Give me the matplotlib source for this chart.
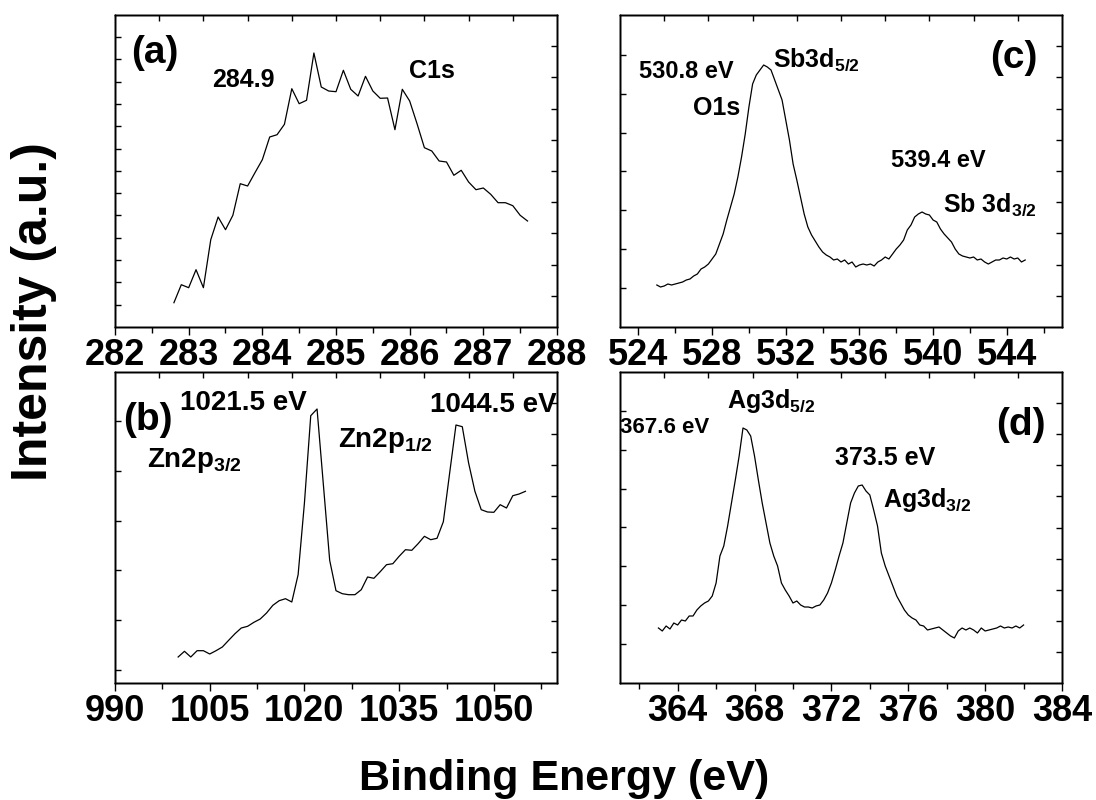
import numpy as np
import matplotlib
matplotlib.use("Agg")
import matplotlib.pyplot as plt
from matplotlib.ticker import MultipleLocator, FixedLocator
from matplotlib import font_manager

# ---- data (arbitrary intensity units) ----
# (a) C1s
e_a = np.round(282.8 + 0.1 * np.arange(49), 2)
i_a = [24.3, 42.3, 39.3, 57.3, 39.3, 87.3, 110.0, 97.3, 111.7, 143.3,
       141.0, 154.3, 167.3, 190.0, 192.3, 202.7, 238.3, 223.3, 226.7, 274.0,
       240.0, 236.0, 235.3, 256.7, 237.7, 231.0, 250.7, 236.0, 228.7, 229.0,
       197.3, 237.7, 226.0, 203.3, 179.3, 176.0, 166.0, 165.0, 151.7, 156.7,
       145.0, 137.3, 139.0, 132.7, 124.3, 124.3, 121.3, 111.7, 106.0]

# (b) Zn2p
e_b = 1000 + np.arange(56)
i_b = [26, 31.7, 26, 32.3, 32.3, 29, 32.3, 36, 42.7, 49.3,
       55, 56.7, 60.7, 64, 70, 77.7, 82.3, 84.3, 81, 108.3,
       180, 267.3, 274, 198.3, 122.7, 92.3, 89.3, 88.3, 88.3, 93.3,
       106, 104.7, 111.3, 118.3, 119.3, 126.7, 133.3, 132.7, 139.3, 146.7,
       143.3, 144.7, 161.3, 210, 258, 256.3, 220, 191.7, 173.3, 171,
       170.7, 178.3, 175, 187.3, 189, 191.7]

# (c) O1s / Sb3d
e_c = np.round(525.0 + 0.2 * np.arange(101), 2)
i_c = [42, 40, 41, 43, 42, 43, 44, 45, 47, 48,
       51, 53, 58, 60, 63, 68, 73, 83, 93, 107,
       120, 133, 150, 170, 193, 220, 243, 252, 257, 262,
       260, 257, 247, 237, 227, 207, 187, 163, 147, 130,
       113, 100, 92, 86, 80, 75, 72, 70, 67, 68,
       65, 67, 63, 65, 60, 62, 63, 62, 63, 61,
       65, 67, 70, 68, 73, 78, 82, 87, 97, 102,
       110, 113, 115, 113, 112, 107, 105, 98, 93, 89,
       85, 78, 73, 71, 70, 69, 70, 67, 68, 65,
       63, 65, 67, 67, 69, 68, 70, 68, 69, 65,
       67]

# (d) Ag3d
e_d = np.round(363.0 + 0.2 * np.arange(96), 2)
i_d = [55, 52, 57, 54, 60, 58, 63, 62, 67, 67,
       73, 77, 80, 82, 87, 100, 127, 137, 157, 180,
       203, 227, 255, 253, 247, 227, 203, 180, 160, 140,
       127, 117, 100, 93, 87, 80, 82, 78, 76, 76,
       75, 77, 78, 83, 90, 100, 113, 127, 140, 160,
       180, 190, 197, 198, 192, 188, 173, 157, 130, 117,
       107, 97, 87, 80, 73, 68, 65, 63, 58, 57,
       53, 54, 55, 56, 53, 50, 47, 45, 52, 55,
       53, 55, 53, 50, 55, 52, 53, 54, 55, 57,
       55, 56, 55, 57, 55, 58]

# ---- fonts ----
names = {f.name for f in font_manager.fontManager.ttflist}
narrow = "Liberation Sans Narrow" if "Liberation Sans Narrow" in names else None
if narrow:
    tick_size, letter_size = 30, 30
    tick_family = [narrow, "Liberation Sans"]
else:
    tick_size, letter_size = 26, 28
    tick_family = ["Liberation Sans"]

plt.rcParams["font.family"] = tick_family
plt.rcParams["font.weight"] = "bold"
plt.rcParams["mathtext.fontset"] = "custom"
plt.rcParams["mathtext.rm"] = "Liberation Sans:bold"
plt.rcParams["mathtext.it"] = "Liberation Sans:bold"
plt.rcParams["mathtext.bf"] = "Liberation Sans:bold"
plt.rcParams["axes.linewidth"] = 1.0

W, H = 1096.0, 800.0
fig = plt.figure(figsize=(W / 100, H / 100), dpi=100)


def make_axes(left, top, right, bottom):
    return fig.add_axes([left / W, 1 - bottom / H, (right - left) / W, (bottom - top) / H])


def style(ax, xlim, major, minor, ytick_pos, ytop):
    ax.set_xlim(*xlim)
    ax.set_ylim(0, ytop)
    ax.xaxis.set_major_locator(MultipleLocator(major))
    ax.xaxis.set_minor_locator(MultipleLocator(minor))
    ax.yaxis.set_major_locator(FixedLocator(ytick_pos))
    ax.tick_params(axis="x", which="major", direction="out", length=6, width=1,
                   pad=2, labelsize=tick_size)
    ax.tick_params(axis="x", which="minor", direction="out", length=4, width=1)
    ax.tick_params(axis="y", direction="in", length=4, width=1, labelleft=False)
    # extra tick sets on the right and on top
    axr = ax.twinx()
    axr.set_ylim(0, 1)
    axr.yaxis.set_major_locator(FixedLocator(np.arange(1, 10) / 10))
    axr.tick_params(axis="y", direction="in", length=4, width=1, labelright=False)
    axt = ax.twiny()
    axt.set_xlim(0, 1)
    axt.xaxis.set_major_locator(FixedLocator(np.arange(1, 10) / 10))
    axt.tick_params(axis="x", direction="in", length=4, width=1, labeltop=False)


lbl = dict(family="Liberation Sans", weight="bold")
lw = 0.9

# (a)
ax_a = make_axes(115, 15, 557, 327)
ax_a.plot(e_a, i_a, color="black", lw=lw)
style(ax_a, (282, 288), 1, 0.5, np.arange(22.3, 300, 22.3), 312)
ax_a.text(0.089, 0.846, "(a)", transform=ax_a.transAxes, ha="center", va="baseline",
          fontsize=letter_size, family=tick_family, weight="bold")
ax_a.text(0.291, 0.769, "284.9", transform=ax_a.transAxes, ha="center", va="baseline",
          fontsize=18, **lbl)
ax_a.text(0.718, 0.798, "C1s", transform=ax_a.transAxes, ha="center", va="baseline",
          fontsize=18, **lbl)

# (c)
ax_c = make_axes(620, 15, 1062, 327)
ax_c.plot(e_c, i_c, color="black", lw=lw)
style(ax_c, (523, 547), 4, 2, np.arange(38.9, 300, 38.9), 312)
ax_c.text(0.890, 0.830, "(c)", transform=ax_c.transAxes, ha="center", va="baseline",
          fontsize=letter_size, family=tick_family, weight="bold")
ax_c.text(0.149, 0.798, "530.8 eV", transform=ax_c.transAxes, ha="center", va="baseline",
          fontsize=17, **lbl)
ax_c.text(0.218, 0.679, "O1s", transform=ax_c.transAxes, ha="center", va="baseline",
          fontsize=18, **lbl)
ax_c.text(0.346, 0.833, "Sb3d$_{5/2}$", transform=ax_c.transAxes, ha="left", va="baseline",
          fontsize=18, **lbl)
ax_c.text(0.721, 0.513, "539.4 eV", transform=ax_c.transAxes, ha="center", va="baseline",
          fontsize=17, **lbl)
ax_c.text(0.731, 0.369, "Sb 3d$_{3/2}$", transform=ax_c.transAxes, ha="left", va="baseline",
          fontsize=18, **lbl)

# (b)
ax_b = make_axes(115, 372, 557, 683)
ax_b.plot(e_b, i_b, color="black", lw=lw)
style(ax_b, (990, 1060), 15, 7.5, np.arange(13.3, 311, 49.7), 311)
ax_b.text(0.0735, 0.814, "(b)", transform=ax_b.transAxes, ha="center", va="baseline",
          fontsize=letter_size, family=tick_family, weight="bold")
ax_b.text(0.29, 0.878, "1021.5 eV", transform=ax_b.transAxes, ha="center", va="baseline",
          fontsize=20, **lbl)
ax_b.text(0.072, 0.695, "Zn2p$_{3/2}$", transform=ax_b.transAxes, ha="left", va="baseline",
          fontsize=20, **lbl)
ax_b.text(0.505, 0.759, "Zn2p$_{1/2}$", transform=ax_b.transAxes, ha="left", va="baseline",
          fontsize=20, **lbl)
ax_b.text(0.855, 0.871, "1044.5 eV", transform=ax_b.transAxes, ha="center", va="baseline",
          fontsize=20, **lbl)

# (d)
ax_d = make_axes(620, 372, 1062, 683)
ax_d.plot(e_d, i_d, color="black", lw=lw)
style(ax_d, (361, 384), 4, 2, np.arange(38.9, 300, 38.9), 311)
ax_d.text(0.907, 0.797, "(d)", transform=ax_d.transAxes, ha="center", va="baseline",
          fontsize=letter_size, family=tick_family, weight="bold")
ax_d.text(0.102, 0.804, "367.6 eV", transform=ax_d.transAxes, ha="center", va="baseline",
          fontsize=16, **lbl)
ax_d.text(0.242, 0.884, "Ag3d$_{5/2}$", transform=ax_d.transAxes, ha="left", va="baseline",
          fontsize=18, **lbl)
ax_d.text(0.600, 0.701, "373.5 eV", transform=ax_d.transAxes, ha="center", va="baseline",
          fontsize=18, **lbl)
ax_d.text(0.595, 0.566, "Ag3d$_{3/2}$", transform=ax_d.transAxes, ha="left", va="baseline",
          fontsize=18, **lbl)

# common axis titles
fig.text(11 / W, 1 - 312 / H, "Intensity (a.u.)", rotation=90, ha="left", va="center",
         fontsize=36, **lbl)
fig.text(564 / W, 1 - 790 / H, "Binding Energy (eV)", ha="center", va="baseline",
         fontsize=31, **lbl)

fig.savefig("out.png", dpi=100)
